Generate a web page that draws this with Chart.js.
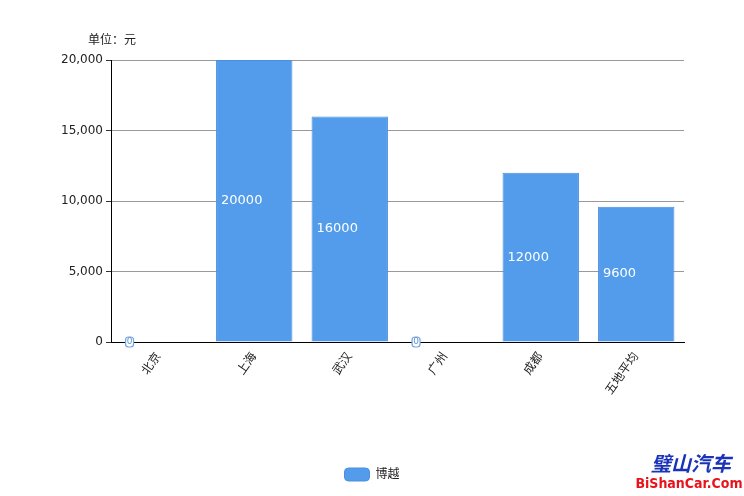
<!DOCTYPE html>
<html>
<head>
<meta charset="utf-8">
<script src="https://cdn.jsdelivr.net/npm/chart.js@4/dist/chart.umd.min.js"></script>
<style>
  html, body { margin: 0; padding: 0; background: #fff; }
  #wrap { width: 744px; height: 496px; }
</style>
</head>
<body>
<div id="wrap"><canvas id="chart" width="744" height="496"></canvas></div>
<script>
"use strict";

// ── 데이터 ─────────────────────────────────────────
const categories = ["北京", "上海", "武汉", "广州", "成都", "五地平均"];
const seriesName = "博越";
const values = [0, 20000, 16000, 0, 12000, 9600];
const yTicks = [0, 5000, 10000, 15000, 20000];
const unitLabel = "单位：元";

const FONT = '"DejaVu Sans", "Noto Sans CJK SC", sans-serif';
const CJK = '"Noto Sans CJK SC", sans-serif';
const BAR_COLOR = "#539cec";

// 막대 안쪽 값 라벨 + 0 값 라벨
const valueLabels = {
  id: "valueLabels",
  afterDatasetsDraw(chart) {
    const { ctx } = chart;
    const meta = chart.getDatasetMeta(0);
    ctx.save();
    meta.data.forEach((bar, i) => {
      const v = values[i];
      const left = bar.x - bar.width / 2 + 5;
      const midY = (bar.y + bar.base) / 2;
      if (v === 0) {
        ctx.font = "9px " + FONT;
        ctx.strokeStyle = "#6fa6e6";
        ctx.fillStyle = "#ffffff";
        ctx.lineWidth = 1.2;
        ctx.beginPath();
        ctx.roundRect(left, midY - 5, 8, 10, 3);
        ctx.fill();
        ctx.stroke();
        ctx.fillStyle = "#6a8fc0";
        ctx.textAlign = "center";
        ctx.textBaseline = "middle";
        ctx.fillText(String(v), left + 4, midY);
      } else {
        ctx.font = "13px " + FONT;
        ctx.fillStyle = "#ffffff";
        ctx.textAlign = "left";
        ctx.textBaseline = "middle";
        ctx.fillText(String(v), left, midY);
      }
    });
    ctx.restore();
  },
};

// 단위 표시 + 워터마크
const extras = {
  id: "extras",
  afterDraw(chart) {
    const { ctx } = chart;
    ctx.save();
    ctx.font = "12px " + CJK;
    ctx.fillStyle = "#222";
    ctx.textAlign = "left";
    ctx.textBaseline = "middle";
    ctx.fillText(unitLabel, 88, 39);

    ctx.textAlign = "center";
    ctx.font = "bold italic 20px " + CJK;
    ctx.fillStyle = "#1a33b8";
    ctx.fillText("璧山汽车", 691, 463);
    ctx.font = "bold 14px \"DejaVu Sans Condensed\", \"DejaVu Sans\", sans-serif";
    ctx.fillStyle = "#e8131b";
    ctx.fillText("BiShanCar.Com", 689, 484);
    ctx.restore();
  },
};

new Chart(document.getElementById("chart"), {
  type: "bar",
  data: {
    labels: categories,
    datasets: [{
      label: seriesName,
      data: values,
      backgroundColor: BAR_COLOR,
      borderColor: "#4a8fdd",
      borderWidth: 1,
      categoryPercentage: 0.8,
      barPercentage: 1.0,
    }],
  },
  options: {
    responsive: false,
    animation: false,
    devicePixelRatio: 1,
    layout: { padding: { top: 60, right: 0, bottom: 5, left: 0 } },
    plugins: {
      tooltip: { enabled: false },
      legend: {
        position: "bottom",
        labels: {
          font: { family: FONT, size: 12 },
          color: "#222",
          boxWidth: 25,
          boxHeight: 13,
          useBorderRadius: true,
          borderRadius: 4,
          padding: 10,
        },
      },
    },
    scales: {
      x: {
        grid: { display: false },
        border: { display: true, color: "#000", width: 1 },
        ticks: {
          font: { family: FONT, size: 12 },
          color: "#222",
          minRotation: 55,
          maxRotation: 55,
          padding: 0,
        },
        afterFit(scale) { scale.height = 116; },
      },
      y: {
        min: 0,
        max: 20000,
        afterBuildTicks(scale) {
          scale.ticks = yTicks.map(v => ({ value: v }));
        },
        grid: {
          color: "#999",
          tickColor: "#333",
          tickLength: 5,
        },
        border: { display: true, color: "#000", width: 1 },
        ticks: {
          font: { family: FONT, size: 12 },
          color: "#222",
          padding: 3,
          callback: v => v.toLocaleString("en-US"),
        },
        afterFit(scale) { scale.width = 111; },
      },
      // 오른쪽 여백용 빈 축
      yRight: {
        position: "right",
        display: true,
        grid: { display: false },
        border: { display: false },
        ticks: { display: false },
        afterFit(scale) { scale.width = 60; },
      },
    },
  },
  plugins: [valueLabels, extras],
});
</script>
</body>
</html>
